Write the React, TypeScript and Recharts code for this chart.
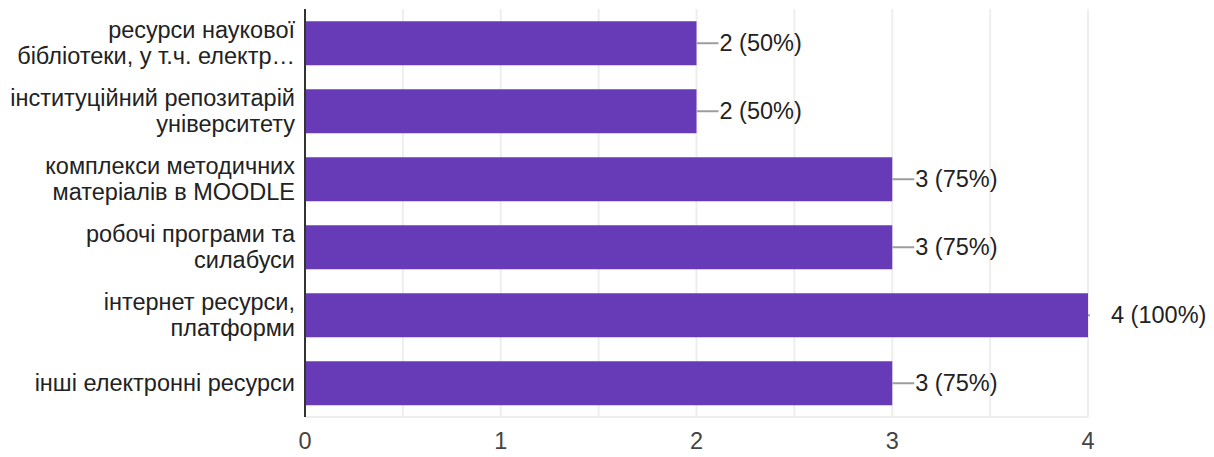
import { BarChart, Bar, XAxis, YAxis, CartesianGrid, LabelList } from "recharts";

const categories = [
  "ресурси наукової\nбібліотеки, у т.ч. електр…",
  "інституційний репозитарій\nуніверситету",
  "комплекси методичних\nматеріалів в MOODLE",
  "робочі програми та\nсилабуси",
  "інтернет ресурси,\nплатформи",
  "інші електронні ресурси",
];
const counts = [2, 2, 3, 3, 4, 3];
const percents = [50, 50, 75, 75, 100, 75];
const xTicks = [0, 0.5, 1, 1.5, 2, 2.5, 3, 3.5, 4];

const data = categories.map((name, i) => ({ name, count: counts[i], pct: percents[i] }));

const FONT = "'Liberation Sans', Arial, sans-serif";
const MAX = 4;

const CategoryTick = ({ x, y, payload }: any) => {
  const lines = String(payload.value).split("\n");
  const start = lines.length === 1 ? 0 : -13;
  return (
    <text x={x - 2} y={y} textAnchor="end" fontFamily={FONT} fontSize={23.5} fill="#222">
      {lines.map((l, i) => (
        <tspan key={i} x={x - 2} y={y + start + i * 26} dominantBaseline="central">
          {l}
        </tspan>
      ))}
    </text>
  );
};

const ValueTick = ({ x, y, payload }: any) => {
  if (payload.value % 1 !== 0) return null;
  return (
    <text x={x} y={y + 16} textAnchor="middle" dominantBaseline="central" fontFamily={FONT} fontSize={23.5} fill="#444">
      {payload.value}
    </text>
  );
};

const BarValue = (props: any) => {
  const { x, y, width, height, index } = props;
  const end = x + width;
  const cy = y + height / 2;
  const lineEnd = counts[index] >= MAX ? end + 2 : end + 22;
  return (
    <g>
      <line x1={end} y1={cy} x2={lineEnd} y2={cy} stroke="#9e9e9e" strokeWidth={2} />
      <text x={end + 23} y={cy} dominantBaseline="central" fontFamily={FONT} fontSize={23.5} fill="#222">
        {`${counts[index]} (${percents[index]}%)`}
      </text>
    </g>
  );
};

export default function App() {
  return (
    <div style={{ position: "absolute", left: 0, top: 0, background: "#fff" }}>
      <BarChart
        width={1214}
        height={457}
        data={data}
        layout="vertical"
        margin={{ top: 9, right: 126, bottom: 0, left: 0 }}
        barCategoryGap="18%"
      >
        <CartesianGrid horizontal={false} stroke="#eeeeee" strokeWidth={2} />
        <XAxis
          type="number"
          domain={[0, MAX]}
          ticks={xTicks}
          axisLine={{ stroke: "#eeeeee", strokeWidth: 2 }}
          tickLine={false}
          tick={<ValueTick />}
          height={40}
          interval={0}
        />
        <XAxis
          xAxisId="top"
          orientation="top"
          type="number"
          domain={[0, MAX]}
          axisLine={{ stroke: "#eeeeee", strokeWidth: 2 }}
          tick={false}
          tickLine={false}
          height={0}
        />
        <YAxis
          type="category"
          dataKey="name"
          width={305}
          axisLine={{ stroke: "#333333", strokeWidth: 2 }}
          tickLine={false}
          tick={<CategoryTick />}
          interval={0}
        />
        <Bar dataKey="count" fill="#673ab7" isAnimationActive={false}>
          <LabelList dataKey="count" content={<BarValue />} />
        </Bar>
      </BarChart>
    </div>
  );
}
